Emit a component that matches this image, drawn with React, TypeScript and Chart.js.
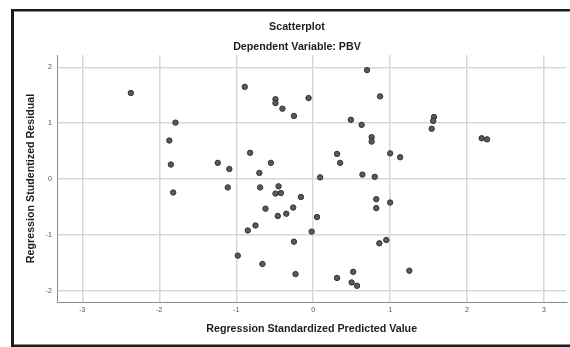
import React, { useEffect, useRef } from "react";
import { Chart, registerables } from "chart.js";

Chart.register(...registerables);

const predictedValues = [
  -2.37, -1.79, -1.87, -1.85, -1.82, -1.24, -1.09, -1.11, -0.89, -0.82,
  -0.70, -0.69, -0.55, -0.45, -0.49, -0.42, -0.62, -0.26, -0.46, -0.35,
  -0.75, -0.85, -0.98, -0.66, -0.25, -0.23, -0.49, -0.49, -0.40, -0.25,
  -0.06, -0.16, 0.05, -0.02, 0.70, 0.87, 0.49, 0.63, 0.76, 0.76,
  1.57, 1.56, 1.54, 0.31, 0.35, 1.00, 1.13, 0.09, 0.64, 0.80,
  2.19, 2.26, 0.82, 0.82, 1.00, 0.86, 0.95, 0.31, 0.52, 0.50,
  0.57, 1.25,
];

const residualValues = [
  1.54, 1.01, 0.69, 0.26, -0.24, 0.29, 0.18, -0.15, 1.65, 0.47,
  0.11, -0.15, 0.29, -0.13, -0.26, -0.25, -0.53, -0.51, -0.66, -0.62,
  -0.83, -0.92, -1.37, -1.52, -1.12, -1.70, 1.43, 1.36, 1.26, 1.13,
  1.45, -0.32, -0.68, -0.94, 1.95, 1.48, 1.06, 0.97, 0.75, 0.67,
  1.11, 1.04, 0.90, 0.45, 0.29, 0.46, 0.39, 0.03, 0.08, 0.04,
  0.73, 0.71, -0.36, -0.52, -0.42, -1.15, -1.09, -1.77, -1.66, -1.85,
  -1.91, -1.64,
];

const xTickValues = [-3, -2, -1, 0, 1, 2, 3];
const yTickValues = [-2, -1, 0, 1, 2];

const chartTitle = "Scatterplot";
const chartSubtitle = "Dependent Variable: PBV";
const xAxisTitle = "Regression Standardized Predicted Value";
const yAxisTitle = "Regression Studentized Residual";

const FONT = "'Liberation Sans', Arial, sans-serif";

const framePlugin = {
  id: "frameAndTitles",
  beforeDraw(chart: any) {
    const { ctx, width, height } = chart;
    ctx.save();
    ctx.fillStyle = "#ffffff";
    ctx.fillRect(0, 0, width, height);
    ctx.fillStyle = "#1c1c1c";
    ctx.fillRect(11, 9, width - 11, 2.5);
    ctx.fillRect(11, 9, 3, height - 9);
    ctx.fillRect(11, 344.5, width - 11, 2.5);
    ctx.restore();
  },
  afterDraw(chart: any) {
    const { ctx } = chart;
    ctx.save();
    ctx.fillStyle = "#1e1e1e";
    ctx.font = `bold 10.7px ${FONT}`;
    ctx.textAlign = "center";
    ctx.textBaseline = "middle";
    ctx.fillText(chartTitle, 297, 27);
    ctx.fillText(chartSubtitle, 297, 47);
    ctx.restore();
  },
};

export default function App() {
  const canvasRef = useRef<HTMLCanvasElement | null>(null);

  useEffect(() => {
    if (!canvasRef.current) return;
    const points = predictedValues.map((x, i) => ({ x, y: residualValues[i] }));
    const chart = new Chart(canvasRef.current, {
      type: "scatter",
      data: {
        datasets: [
          {
            data: points,
            pointRadius: 2.7,
            pointHoverRadius: 2.7,
            backgroundColor: "#5a5a5a",
            borderColor: "#333333",
            borderWidth: 1,
          },
        ],
      },
      plugins: [framePlugin],
      options: {
        animation: false,
        responsive: false,
        maintainAspectRatio: false,
        events: [],
        layout: { padding: { left: 14, top: 55, right: 0, bottom: 0 } },
        plugins: {
          legend: { display: false },
          title: { display: false },
          tooltip: { enabled: false },
        },
        scales: {
          x: {
            type: "linear",
            min: -3.33,
            max: 3.29,
            afterFit: (s: any) => {
              s.height = 45;
            },
            afterBuildTicks: (s: any) => {
              s.ticks = xTickValues.map((v) => ({ value: v }));
            },
            grid: {
              color: "#d8d8d8",
              lineWidth: 1.5,
              drawTicks: false,
            },
            border: { display: true, color: "#8a8a8a", width: 1 },
            ticks: {
              padding: 4,
              color: "#555555",
              font: { family: FONT, size: 7 },
            },
            title: {
              display: true,
              text: xAxisTitle,
              color: "#1e1e1e",
              font: { family: FONT, size: 10.7, weight: "bold" },
              padding: { top: 0, bottom: 11.5 },
            },
          },
          y: {
            type: "linear",
            min: -2.2,
            max: 2.22,
            afterFit: (s: any) => {
              s.width = 43;
            },
            afterBuildTicks: (s: any) => {
              s.ticks = yTickValues.map((v) => ({ value: v }));
            },
            grid: {
              color: "#d8d8d8",
              lineWidth: 1.5,
              drawTicks: false,
            },
            border: { display: true, color: "#8a8a8a", width: 1 },
            ticks: {
              padding: 5,
              color: "#555555",
              font: { family: FONT, size: 7 },
            },
            title: {
              display: true,
              text: yAxisTitle,
              color: "#1e1e1e",
              font: { family: FONT, size: 10.7, weight: "bold" },
              padding: { top: 11, bottom: 0 },
            },
          },
        },
      },
    });
    return () => chart.destroy();
  }, []);

  return (
    <div style={{ position: "fixed", left: 0, top: 0, width: 570, height: 347 }}>
      <canvas ref={canvasRef} width={570} height={347} style={{ display: "block", width: 570, height: 347 }} />
    </div>
  );
}
